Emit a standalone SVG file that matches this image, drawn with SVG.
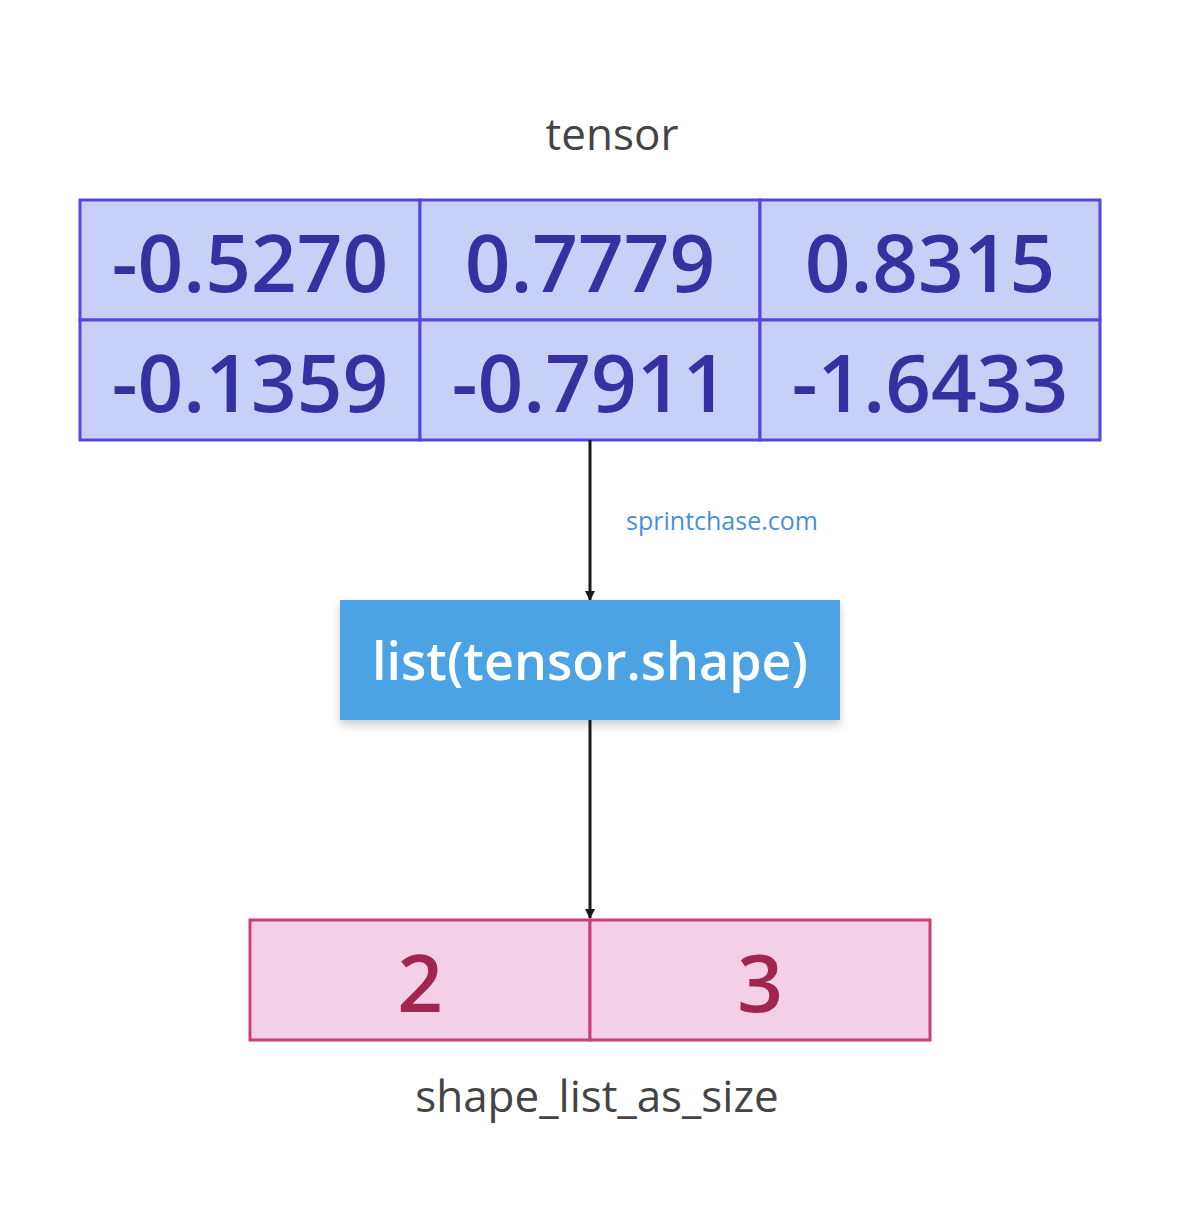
<svg xmlns="http://www.w3.org/2000/svg" width="1180" height="1225" viewBox="0 0 1180 1225">
<style>
text{font-family:"Open Sans","Noto Sans",sans-serif;text-anchor:middle}
.t{fill:#c9d0f8;stroke:#5446e0;stroke-width:3}
.tt{fill:#3730a0;font-size:80px;font-weight:600}
.p{fill:#f4d0e6;stroke:#cc3d7a;stroke-width:3}
.pt{fill:#a0264f;font-size:80px;font-weight:600}
.lbl{fill:#444;font-size:44px;font-weight:500}
.c{stroke:#1a1a1a;stroke-width:3;fill:none}
</style>
<defs>
<marker id="ah" markerWidth="10" markerHeight="10" refX="9" refY="5" orient="auto" markerUnits="userSpaceOnUse" viewBox="0 0 10 10"><path d="M0,0 L10,5 L0,10 z" fill="#1a1a1a"/></marker>
<filter id="sh" x="-10%" y="-20%" width="120%" height="150%"><feDropShadow dx="0" dy="5" stdDeviation="5" flood-color="#000" flood-opacity="0.2"/></filter>
</defs>
<rect width="1180" height="1225" fill="#fff"/>
<text x="612" y="150" class="lbl">tensor</text>
<g id="tensor">
<rect class="t" x="80" y="200" width="340" height="120"/>
<rect class="t" x="420" y="200" width="340" height="120"/>
<rect class="t" x="760" y="200" width="340" height="120"/>
<rect class="t" x="80" y="320" width="340" height="120"/>
<rect class="t" x="420" y="320" width="340" height="120"/>
<rect class="t" x="760" y="320" width="340" height="120"/>
<text class="tt" x="250" y="292">-0.5270</text>
<text class="tt" x="590" y="292">0.7779</text>
<text class="tt" x="930" y="292">0.8315</text>
<text class="tt" x="250" y="412">-0.1359</text>
<text class="tt" x="590" y="412">-0.7911</text>
<text class="tt" x="930" y="412">-1.6433</text>
</g>
<g id="connectors">
<line class="c" x1="590" y1="440" x2="590" y2="600" marker-end="url(#ah)"/>
<text x="722" y="530" fill="#4a90d9" font-size="25">sprintchase.com</text>
<line class="c" x1="590" y1="720" x2="590" y2="918" marker-end="url(#ah)"/>
</g>
<g id="op">
<rect x="340" y="600" width="500" height="120" fill="#4ca3e3" filter="url(#sh)"/>
<text x="590" y="680" fill="#fff" font-size="52" font-weight="600">list(tensor.shape)</text>
</g>
<g id="shape">
<rect class="p" x="250" y="920" width="340" height="120"/>
<rect class="p" x="590" y="920" width="340" height="120"/>
<text class="pt" x="420" y="1012">2</text>
<text class="pt" x="760" y="1012">3</text>
</g>
<text x="597" y="1112" class="lbl">shape_list_as_size</text>
</svg>
